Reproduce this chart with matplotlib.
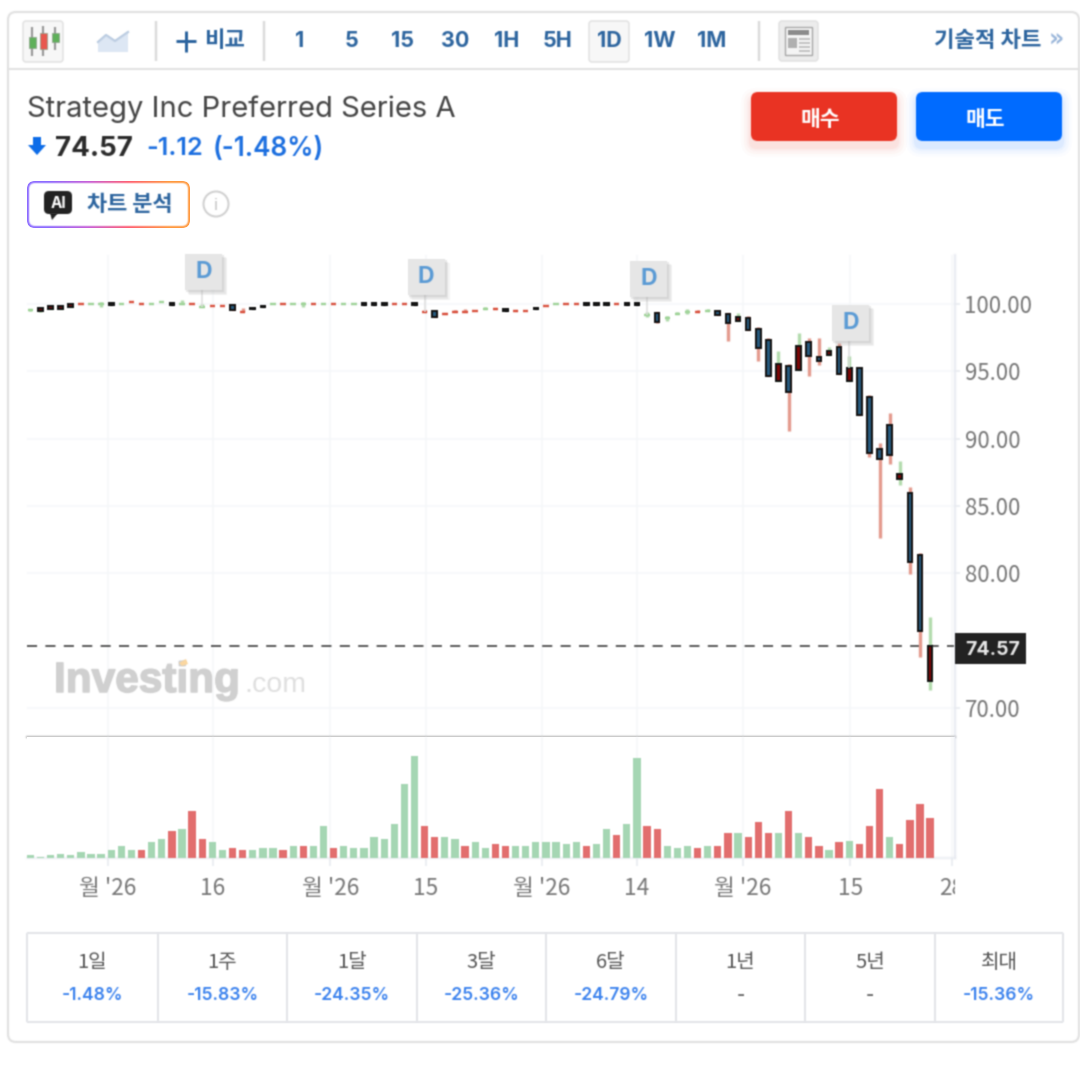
import numpy as np
import matplotlib
matplotlib.use("Agg")
import matplotlib.pyplot as plt
from matplotlib.patches import FancyBboxPatch, Rectangle, Circle, Polygon, Patch
from matplotlib.lines import Line2D
from matplotlib.text import Text
from matplotlib.collections import Collection
from matplotlib.transforms import Bbox
import matplotlib.patheffects as pe

FONT = ['Inter', 'Noto Sans CJK KR', 'DejaVu Sans']
KR = ['Noto Sans CJK KR', 'DejaVu Sans']
plt.rcParams['font.family'] = FONT

# ---------- data ----------
title = "Strategy Inc Preferred Series A"
last_price = 74.57
price_text = "74.57"
change_text = "-1.12"
change_pct_text = "(-1.48%)"

# candle kind: g/r flat green/red dash, k tiny black body, b down body, d up body
kinds = "gddddrggkgrrggkgrgrrbrkkgrggrgrggkkkrrkrbrrrrgrkrrkrgrrkkkrkkgbgggrg" + "bbdbbbdbdbbdbdbbbbdbbd"
opens = [99.56,99.45,99.62,99.62,99.78,100,100,100,100.05,100,100.15,100,100,100.12,100.05,100,100,99.75,99.88,99.88,
         99.92,99.43,99.74,99.89,100,100,100,100,100,100,100,100,100,100.05,100.05,100.05,100,100,100.05,99.38,
         99.51,99.23,99.38,99.38,99.48,99.63,99.63,99.62,99.51,99.48,99.74,99.88,100,100,100,100.05,100.05,100.05,100,100.05,
         100.05,99.21,99.31,98.99,99.23,99.38,99.38,99.51,99.51,99.26,98.76,98.96,98.14,97.33,94.26,95.40,95.08,97.18,96.09,96.19,
         96.78,94.26,95.27,93.07,89.26,91.04,87.01,85.99,81.37,72.04]
highs = [99.62,99.72,99.86,99.86,100.02,100,100,100.17,100.05,100,100.15,100,100,100.12,100.05,100.30,100,99.98,99.88,99.88,
         99.95,99.68,99.74,99.89,100,100,100,100.12,100,100,100,100,100,100.05,100.05,100.05,100,100,100.05,99.53,
         99.51,99.36,99.53,99.63,99.48,99.75,99.73,99.62,99.58,99.48,99.74,99.88,100,100,100,100.05,100.05,100.05,100,100.05,
         100.05,99.41,99.41,99.11,99.38,99.63,99.53,99.65,99.51,99.36,99.36,99.11,98.27,97.45,96.51,95.55,97.87,97.45,97.45,96.78,
         97.08,96.14,95.27,93.22,89.68,91.88,88.32,86.44,81.49,76.74]
lows = [99.50,99.42,99.60,99.60,99.76,100,100,99.75,99.95,100,100.15,100,100,100.12,99.95,100,100,99.75,99.88,99.88,
        99.55,99.43,99.62,99.77,100,100,100,99.75,100,100,100,100,100,99.95,99.95,99.95,100,100,99.95,99.38,
        99.01,99.23,99.38,99.38,99.48,99.63,99.63,99.50,99.51,99.48,99.62,99.88,100,100,100,99.95,99.95,99.95,100,99.95,
        99.95,99.01,98.62,98.76,99.23,99.28,99.38,99.51,99.16,97.25,98.76,98.07,95.74,94.66,94.26,90.57,95.08,94.66,95.47,96.19,
        94.80,94.26,91.78,88.67,82.63,88.10,86.59,79.93,73.82,71.34]
closes = [99.56,99.68,99.84,99.84,100.0,100,100,100,99.95,100,100.15,100,100,100.12,99.95,100,100,99.75,99.88,99.88,
          99.58,99.43,99.62,99.77,100,100,100,100,100,100,100,100,100,99.95,99.95,99.95,100,100,99.95,99.38,
          99.05,99.23,99.38,99.38,99.48,99.63,99.63,99.50,99.51,99.48,99.62,99.88,100,100,100,99.95,99.95,99.95,100,99.95,
          99.95,99.21,98.65,98.99,99.23,99.38,99.38,99.51,99.16,98.61,99.06,98.07,96.71,94.66,95.52,93.44,96.91,96.17,95.74,96.49,
          94.80,95.27,91.78,88.94,88.52,88.79,87.38,80.87,75.72,74.57]
volumes = [8,3,8,13,8,19,13,13,25,36,25,25,47,58,80,86,141,58,47,25,30,25,25,30,30,25,36,36,36,96,
           30,36,30,30,64,58,102,223,306,96,64,64,58,36,47,30,41,36,36,36,47,47,47,41,47,36,41,86,69,102,
           300,96,86,36,30,36,30,36,36,75,75,64,108,75,75,141,75,64,36,25,47,52,41,96,207,64,41,113,163,119]
vol_dirs = list("gggggggggg" "grggrgrrgg" "rrgggrgrgg" "rggggggggr" "rggrggrrgg"
                "gggggrggrg" "grrgggrgrr" "grrrgrgrrg" "rgrrrgrrrr")
dividend_idx = [17, 39, 61, 81]
dividend_box_tops = [254, 259, 261, 305]

y_ticks = [70, 80, 85, 90, 95, 100]
x_tick_pos = [7.69, 18.05, 29.68, 39.14, 50.58, 60.0, 70.5, 81.1, 91.15]
x_tick_lab = ["월 '26", "16", "월 '26", "15", "월 '26", "14", "월 '26", "15", "28"]
periods = ["1", "5", "15", "30", "1H", "5H", "1D", "1W", "1M"]
period_x = [300, 352, 403, 455, 507, 558, 609, 660, 712]
perf_labels = ["1일", "1주", "1달", "3달", "6달", "1년", "5년", "최대"]
perf_values = ["-1.48%", "-15.83%", "-24.35%", "-25.36%", "-24.79%", "-", "-", "-15.36%"]
perf_edges = [27, 158, 287, 417, 546, 676, 805, 935, 1063]

# ---------- figure ----------
W, H = 1080, 1080
fig = plt.figure(figsize=(W / 100, H / 100), dpi=100, facecolor='white')
def rect(l, t, r, b):
    return [l / W, 1 - b / H, (r - l) / W, (b - t) / H]

ax = fig.add_axes(rect(27, 255, 955, 737), zorder=2)
axv = fig.add_axes(rect(27, 737, 955, 858), zorder=2)
ov = fig.add_axes([0, 0, 1, 1], zorder=5)
ov.set_xlim(0, W); ov.set_ylim(H, 0); ov.axis('off'); ov.patch.set_alpha(0)

GRID = '#f6f7fa'
EDGE = '#e6e9f0'
x = np.arange(len(closes))
xlim = (-0.33, 91.46)
px = 0.72

for a in (ax, axv):
    a.set_xlim(*xlim)
    a.set_axisbelow(True)
    for s in a.spines.values():
        s.set_visible(False)
    a.set_xticks(x_tick_pos)
    a.grid(axis='x', color=GRID, lw=1.5 * px)

ax.set_ylim(67.85, 103.64)
ax.yaxis.tick_right()
ax.set_yticks(y_ticks)
ax.set_yticklabels([f"{t:.2f}" for t in y_ticks], color='#777777', fontsize=16, family=KR)
ax.tick_params(axis='y', length=5 * px, width=1.5 * px, color=EDGE, pad=4.5 * px)
ax.tick_params(axis='x', length=0, labelbottom=False)
ax.grid(axis='y', color=GRID, lw=1.5 * px)
ax.spines['right'].set_visible(True); ax.spines['right'].set_color(EDGE); ax.spines['right'].set_linewidth(2 * px)
ax.spines['bottom'].set_visible(True); ax.spines['bottom'].set_color('#b0b0b0'); ax.spines['bottom'].set_linewidth(2 * px)

# candles
WICK = {'g': '#b4dcaf', 'd': '#b4dcaf', 'r': '#e59c8f', 'b': '#e59c8f', 'k': '#444444'}
DASH = {'g': '#a0d49a', 'r': '#d9503e'}
FILL = {'b': '#265a7e', 'd': '#7c0606', 'k': '#111111'}
BW = 0.46
ax.axhline(last_price, color='#333333', lw=1.6 * px, dashes=(6.3, 5.2), zorder=1.5)
for i, k in enumerate(kinds):
    o, h, l, c = opens[i], highs[i], lows[i], closes[i]
    if h > l:
        ax.vlines(i, l, h, color=WICK[k], lw=3.4 * px, zorder=2)
    if k in DASH:
        ax.hlines(c, i - 0.27, i + 0.27, color=DASH[k], lw=2.4 * px, zorder=3)
    else:
        ax.bar(i, abs(c - o), BW, bottom=min(o, c), color=FILL[k], edgecolor='#151515',
               linewidth=2.0 * px, zorder=3)

# volume
axv.set_ylim(0, 363)
axv.bar(x, volumes, 0.72, color=['#a5d6b3' if d == 'g' else '#e26e6e' for d in vol_dirs], zorder=3)
axv.set_yticks([])
axv.spines['right'].set_visible(True); axv.spines['right'].set_color(EDGE); axv.spines['right'].set_linewidth(2 * px)
axv.spines['bottom'].set_visible(True); axv.spines['bottom'].set_color(EDGE); axv.spines['bottom'].set_linewidth(1.5 * px)
axv.set_xticklabels(x_tick_lab, fontsize=16.3, color='#777777', family=KR)
axv.tick_params(axis='x', length=8 * px, width=1.5 * px, color=EDGE, pad=11 * px)
for t in axv.get_xticklabels():
    t.set_clip_on(True)
    t.set_clip_box(Bbox([[0, 0], [955, H]]))

# ---------- chrome ----------
def box(l, t, r, b, fc='none', ec='none', lw=1.0, rad=4, z=1, alpha=None):
    p = FancyBboxPatch((l + rad, t + rad), r - l - 2 * rad, b - t - 2 * rad,
                       boxstyle=f"round,pad={rad},rounding_size={rad}", fc=fc, ec=ec,
                       lw=lw * px, zorder=z, alpha=alpha, mutation_aspect=1)
    ov.add_patch(p)
    return p

def line(xs, ys, c, lw=1.0, z=2, **kw):
    ov.plot(xs, ys, color=c, lw=lw * px, zorder=z, solid_capstyle=kw.pop('cap', 'butt'), **kw)

def txt(x0, y0, s, size, c='#333333', w='normal', ha='center', fam=FONT, z=6, **kw):
    return ov.text(x0, y0, s, fontsize=size, color=c, fontweight=w, ha=ha, va='center',
                   family=fam, zorder=z, **kw)

BLUE_TXT = '#2d659f'
box(8, 12, 1079, 1042, fc='none', ec='#e2e2e2', lw=2.2, rad=8)
line([8, 1079], [69, 69], '#e2e2e2', 2)
for sx in (156, 264, 759):
    line([sx, sx], [21, 61], '#dcdcdc', 2.5)

# candlestick icon
box(23, 21, 63, 62, fc='#f7f7f7', ec='#e2e2e2', lw=1.5, rad=3)
for cx, top, bot, bt, bb, col in [(32, 27, 56, 37, 48, '#5fb05a'), (43, 26, 56, 33, 49, '#e8584f'), (55, 27, 50, 33, 42, '#5fb05a')]:
    line([cx, cx], [top, bot], '#9a9a9a', 2.2)
    ov.add_patch(Rectangle((cx - 3.5, bt), 7, bb - bt, fc=col, ec='#8aa088', lw=0.5, zorder=3))
# area icon
ov.add_patch(Polygon([(98, 42), (106, 35), (115, 41), (128, 32), (128, 52), (98, 52)], fc='#dde7f4', ec='none', zorder=2))
ov.plot([98, 106, 115, 128], [42, 35, 41, 32], color='#bccde2', lw=1.6, zorder=3)
# compare
line([176, 196], [41, 41], BLUE_TXT, 3)
line([186, 186], [31, 52], BLUE_TXT, 3)
txt(225, 40.5, "비교", 16, BLUE_TXT, 'bold', fam=KR)
# periods
box(589, 21, 629, 62, fc='#f7f7f7', ec='#e2e2e2', lw=1.5, rad=3)
for s, px0 in zip(periods, period_x):
    txt(px0, 41, s, 15.5, BLUE_TXT, 'bold')
# news icon
box(779, 21, 818, 61, fc='#ececec', ec='#e2e2e2', lw=1.5, rad=3)
ov.add_patch(Rectangle((785, 27), 27, 28, fc='#f4f4f4', ec='#a8a8a8', lw=1, zorder=3))
ov.add_patch(Rectangle((788, 30), 21, 5, fc='#8c8c8c', ec='none', zorder=4))
ov.add_patch(Rectangle((788, 38), 9, 10, fc='#b0b0b0', ec='none', zorder=4))
for yy in (39, 43, 47, 51):
    line([799, 810], [yy, yy], '#b4b4b4', 1.5, z=4)
txt(1042, 40.5, "기술적 차트", 16, BLUE_TXT, 'bold', ha='right', fam=KR)
txt(1056, 40, "»", 17, '#9ab6da', 'bold', fam=['DejaVu Sans'])

# title & price
txt(27, 109, title, 21, '#444444', ha='left')
ov.add_patch(Polygon([(33, 137), (41, 137), (41, 145), (46, 145), (37, 155), (28, 145), (33, 145)], fc='#0d6ce8', ec='none', zorder=4))
txt(55, 148.5, price_text, 20, '#2b2b2b', 'bold', ha='left')
txt(146, 148.5, change_text, 18.2, '#1c6fe0', 'semibold', ha='left')
txt(213, 148.5, change_pct_text, 18.8, '#1c6fe0', 'semibold', ha='left')

# buttons with soft shadow
for l, r, col in [(751, 897, '#ea3323'), (916, 1062, '#006bff')]:
    for g, a in zip((10, 7, 4, 2), (0.02, 0.03, 0.04, 0.05)):
        box(l - g, 92 - g + 6, r + g, 141 + g + 6, fc=col, rad=6 + g, alpha=a)
    box(l, 92, r, 141, fc=col, rad=7, z=2)
txt(820, 119, "매수", 15.5, 'white', 'bold', fam=KR)
txt(985, 119, "매도", 15.5, 'white', 'bold', fam=KR)

# AI button with gradient border
grad = np.array([[[0.55, 0.42, 1.0], [0.78, 0.38, 0.85], [1.0, 0.38, 0.45], [1.0, 0.60, 0.25]]])
clip = box(27, 181, 190, 228, fc='none', ec='none', rad=8)
im = ov.imshow(grad, extent=(27, 190, 228, 181), aspect='auto', interpolation='bilinear', zorder=2)
im.set_clip_path(clip)
ov.set_xlim(0, W); ov.set_ylim(H, 0)
box(29, 183, 188, 226, fc='white', rad=6, z=3)
box(44, 191, 72, 214, fc='#222222', rad=5, z=4)
ov.add_patch(Polygon([(50, 213), (58, 213), (52, 220)], fc='#222222', ec='none', zorder=4))
txt(58, 204, "AI", 11, 'white', 'bold', fam=FONT)
txt(130, 204.5, "차트 분석", 15.8, BLUE_TXT, 'bold', fam=KR)
ov.add_patch(Circle((216, 204), 12.5, fc='none', ec='#d0d0d0', lw=2 * px, zorder=3))
txt(216, 205, "i", 12, '#c4c4c4', 'normal')

# watermark
wm = txt(54, 681, "Investing", 30.5, '#d0d0d0', 'bold', ha='left', fam=['Liberation Sans'], z=3)
wm.set_path_effects([pe.withStroke(linewidth=1.1, foreground='#d0d0d0')])
txt(244, 685, ".com", 20.5, '#e0e0e0', 'normal', ha='left', fam=['Liberation Sans'], z=3)
ov.add_patch(Polygon([(179, 663), (186, 659), (188, 664), (182, 666)], fc='#fbd7a0', ec='none', zorder=4))

# price label
ov.add_patch(Rectangle((955, 633), 71, 31, fc='#222222', ec='none', zorder=4))
txt(993, 650, price_text, 14, '#e8e8e8', 'bold')

# dividend flags
fig.canvas.draw()
for i, top in zip(dividend_idx, dividend_box_tops):
    xp, yp = ax.transData.transform((i, closes[i]))
    yp = H - yp
    xp = float(xp)
    line([xp, xp], [top + 34, yp], '#dddddd', 1.5, z=3)
    l = xp - 17
    for g, a in zip((5, 3.5, 2), (0.12, 0.18, 0.25)):
        ov.add_patch(Rectangle((l + g - 1, top + g - 1), 37 + 1, 36 + 1, fc='#a8a8a8', ec='none', alpha=a, zorder=3.4))
    ov.add_patch(Rectangle((l, top), 37, 36, fc='#e6e6e6', ec='none', zorder=3.5))
    txt(l + 18.5, top + 18, "D", 16.5, '#5b9bd5', 'bold')

# performance table
line([perf_edges[0], perf_edges[-1]], [933, 933], '#e3e5ea', 2)
line([perf_edges[0], perf_edges[-1]], [1022, 1022], '#e3e5ea', 2)
for e in perf_edges:
    line([e, e], [933, 1022], '#e3e5ea', 2)
for i, (lab, val) in enumerate(zip(perf_labels, perf_values)):
    cx = (perf_edges[i] + perf_edges[i + 1]) / 2
    txt(cx, 962.5, lab, 14.5, '#555555', 'normal', fam=KR)
    txt(cx, 996, val, 12.6, '#3b82ee' if val != '-' else '#666666', 'semibold')

# the reference is a slightly soft upscaled capture
def soft(img, dpi):
    pad = 2
    a = np.pad(img, ((pad, pad), (pad, pad), (0, 0)))
    al = a[..., 3:4]
    pm = np.concatenate([a[..., :3] * al, al], axis=2)
    k = (0.22, 0.56, 0.22)
    for axis in (0, 1):
        pm = k[0] * np.roll(pm, 1, axis) + k[1] * pm + k[2] * np.roll(pm, -1, axis)
    al2 = np.clip(pm[..., 3:4], 1e-6, 1)
    rgb = np.clip(pm[..., :3] / al2, 0, 1)
    return np.concatenate([rgb, al2], axis=2), -pad, -pad

for a in (ax, axv, ov):
    for art in a.findobj(lambda o: isinstance(o, (Text, Line2D, Patch, Collection))):
        if art is a.patch:
            continue
        art.set_agg_filter(soft)

fig.savefig("out.png", dpi=100, facecolor='white')
